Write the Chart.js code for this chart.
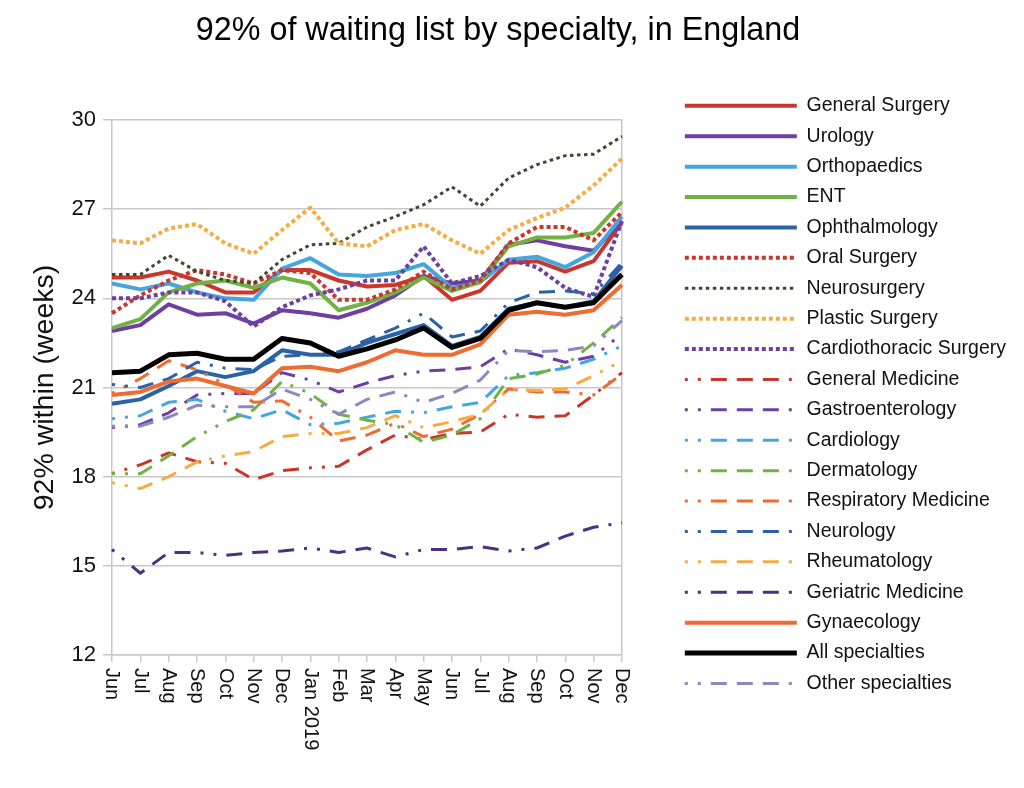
<!DOCTYPE html>
<html>
<head>
<meta charset="utf-8">
<script src="https://cdn.jsdelivr.net/npm/chart.js@4.4.1/dist/chart.umd.min.js"></script>
<style>
  html, body { margin: 0; padding: 0; background: #fff; }
  #wrap { width: 1024px; height: 788px; position: relative; }
</style>
</head>
<body>
<div id="wrap"><canvas id="c"></canvas></div>
<script>
// ---------- DATA ----------
const months = ['Jun','Jul','Aug','Sep','Oct','Nov','Dec','Jan 2019','Feb','Mar','Apr','May','Jun','Jul','Aug','Sep','Oct','Nov','Dec'];
const yTicks = [12, 15, 18, 21, 24, 27, 30];

const generalSurgery  = [24.7, 24.7, 24.9, 24.6, 24.2, 24.2, 24.95, 24.95, 24.6, 24.4, 24.45, 24.75, 23.95, 24.25, 25.2, 25.25, 24.9, 25.25, 26.55];
const urology         = [22.9, 23.1, 23.8, 23.45, 23.5, 23.15, 23.6, 23.5, 23.35, 23.65, 24.1, 24.75, 24.5, 24.6, 25.8, 25.95, 25.75, 25.6, 26.6];
const orthopaedics    = [24.5, 24.3, 24.5, 24.2, 24.0, 23.95, 25.0, 25.35, 24.8, 24.75, 24.85, 25.15, 24.35, 24.55, 25.3, 25.4, 25.05, 25.55, 26.75];
const ent             = [23.0, 23.3, 24.2, 24.5, 24.6, 24.35, 24.7, 24.5, 23.6, 23.85, 24.2, 24.7, 24.25, 24.55, 25.75, 26.05, 26.05, 26.2, 27.25];
const ophthalmology   = [20.45, 20.6, 21.05, 21.55, 21.35, 21.55, 22.25, 22.1, 22.1, 22.5, 22.8, 23.1, 22.4, 22.7, 23.65, 23.85, 23.7, 23.9, 25.1];
const oralSurgery     = [23.5, 24.1, 24.6, 24.95, 24.8, 24.5, 24.95, 24.85, 23.95, 23.95, 24.3, 24.9, 24.3, 24.6, 25.85, 26.4, 26.4, 25.95, 26.9];
const neurosurgery    = [24.8, 24.8, 25.45, 24.9, 24.6, 24.5, 25.3, 25.8, 25.85, 26.4, 26.75, 27.15, 27.75, 27.1, 28.05, 28.5, 28.8, 28.85, 29.45];
const plasticSurgery  = [25.95, 25.85, 26.35, 26.5, 25.85, 25.5, 26.3, 27.05, 25.85, 25.75, 26.3, 26.5, 25.95, 25.5, 26.3, 26.7, 27.05, 27.8, 28.7];
const cardiothoracic  = [24.0, 24.0, 24.2, 24.2, 23.9, 23.05, 23.7, 24.1, 24.3, 24.6, 24.6, 25.75, 24.5, 24.75, 25.3, 25.05, 24.35, 24.05, 26.6];
const generalMedicine = [18.1, 18.4, 18.8, 18.5, 18.45, 17.9, 18.2, 18.3, 18.35, 18.9, 19.4, 19.25, 19.45, 19.5, 20.1, 20.0, 20.05, 20.75, 21.5];
const gastroenterology= [19.65, 19.75, 20.15, 20.75, 20.8, 20.8, 21.5, 21.25, 20.85, 21.15, 21.4, 21.55, 21.6, 21.7, 22.3, 22.1, 21.85, 22.05, 22.8];
const cardiology      = [19.95, 20.05, 20.5, 20.6, 20.2, 19.95, 20.25, 19.75, 19.8, 20.0, 20.2, 20.15, 20.35, 20.5, 21.4, 21.5, 21.65, 21.95, 22.4];
const dermatology     = [18.1, 18.1, 18.7, 19.35, 19.85, 20.25, 21.2, 20.8, 20.1, 19.9, 19.75, 19.15, 19.4, 19.95, 21.3, 21.45, 21.75, 22.5, 23.35];
const respiratory     = [20.8, 21.3, 21.9, 21.6, 21.1, 20.5, 20.55, 20.0, 19.2, 19.4, 19.8, 19.35, 19.6, 20.1, 20.95, 20.85, 20.85, 20.75, 21.45];
const neurology       = [21.1, 21.0, 21.3, 21.85, 21.65, 21.6, 22.05, 22.1, 22.2, 22.6, 23.0, 23.5, 22.7, 22.9, 23.85, 24.2, 24.25, 24.15, 25.2];
const rheumatology    = [17.8, 17.6, 18.0, 18.5, 18.7, 18.85, 19.35, 19.45, 19.45, 19.65, 20.05, 19.65, 19.85, 20.1, 20.95, 20.9, 20.95, 21.4, 21.9];
const geriatric       = [15.55, 14.75, 15.45, 15.45, 15.35, 15.45, 15.5, 15.6, 15.45, 15.6, 15.3, 15.55, 15.55, 15.65, 15.5, 15.6, 16.0, 16.3, 16.45];
const gynaecology     = [20.75, 20.85, 21.2, 21.3, 21.05, 20.8, 21.65, 21.7, 21.55, 21.85, 22.25, 22.1, 22.1, 22.45, 23.45, 23.55, 23.45, 23.6, 24.45];
const allSpecialties  = [21.5, 21.55, 22.1, 22.15, 21.95, 21.95, 22.65, 22.5, 22.05, 22.3, 22.6, 23.0, 22.35, 22.65, 23.6, 23.85, 23.7, 23.85, 24.8];
const otherSpecialties= [19.7, 19.7, 20.0, 20.4, 20.35, 20.35, 20.95, 20.6, 20.1, 20.6, 20.85, 20.5, 20.8, 21.25, 22.25, 22.2, 22.25, 22.4, 23.25];

// ---------- STYLES ----------
const SOLID = [];
const DOT = [4, 3];
const DOT_FINE = [3.5, 3.5];
const DASHDOT = [3, 10, 3, 10, 16, 10, 16, 10, 16, 10];

const C = {
  red: '#C9372C', purple: '#6E3FA0', lblue: '#45A5DE', green: '#72B144',
  dblue: '#2B62A6', olive: '#3C4B30', lorange: '#F5AC45', orange: '#EE6B31',
  dpurple: '#4B2F82', black: '#000000', lavender: '#8C88C4'
};

const series = [
  ['General Surgery', generalSurgery, C.red, SOLID, 4],
  ['Urology', urology, C.purple, SOLID, 4],
  ['Orthopaedics', orthopaedics, C.lblue, SOLID, 4],
  ['ENT', ent, C.green, SOLID, 4],
  ['Ophthalmology', ophthalmology, C.dblue, SOLID, 4],
  ['Oral Surgery', oralSurgery, C.red, DOT, 4],
  ['Neurosurgery', neurosurgery, C.olive, DOT_FINE, 3],
  ['Plastic Surgery', plasticSurgery, C.lorange, DOT, 4],
  ['Cardiothoracic Surgery', cardiothoracic, C.purple, DOT, 4],
  ['General Medicine', generalMedicine, C.red, DASHDOT, 3],
  ['Gastroenterology', gastroenterology, C.purple, DASHDOT, 3],
  ['Cardiology', cardiology, C.lblue, DASHDOT, 3],
  ['Dermatology', dermatology, C.green, DASHDOT, 3],
  ['Respiratory Medicine', respiratory, C.orange, DASHDOT, 3],
  ['Neurology', neurology, C.dblue, DASHDOT, 3],
  ['Rheumatology', rheumatology, C.lorange, DASHDOT, 3],
  ['Geriatric Medicine', geriatric, C.dpurple, DASHDOT, 3],
  ['Gynaecology', gynaecology, C.orange, SOLID, 4],
  ['All specialties', allSpecialties, C.black, SOLID, 5],
  ['Other specialties', otherSpecialties, C.lavender, DASHDOT, 3]
];

const N = series.length;
const datasets = series.map(([label, data, color, dash, w], i) => ({
  label, data,
  borderColor: color, backgroundColor: color,
  borderDash: dash, borderWidth: w,
  borderCapStyle: 'butt', borderJoinStyle: 'round',
  pointRadius: 0, pointHoverRadius: 0,
  tension: 0, fill: false,
  order: N - i,
  xAxisID: 'x', yAxisID: 'y'
}));

// legend entries built from the same series table
const legendItems = series.map(([label, data, color, dash, w], i) => ({
  text: label, strokeStyle: color, fillStyle: color,
  lineWidth: w, lineDash: dash, lineCap: 'butt', lineJoin: 'miter',
  pointStyle: 'line', hidden: false, datasetIndex: i
}));

const GRID = '#c8c8c8';
const FONT = '"Liberation Sans", Arial, Helvetica, sans-serif';
Chart.defaults.font.family = FONT;
Chart.defaults.color = '#111';

// Draw x tick labels rotated clockwise (reading top to bottom), positioned by the scale.
const xLabelPlugin = {
  id: 'xLabelsCW',
  afterDraw(chart) {
    const sc = chart.scales.x;
    const ctx = chart.ctx;
    ctx.save();
    ctx.font = '20px ' + FONT;
    ctx.fillStyle = '#111';
    ctx.textAlign = 'left';
    ctx.textBaseline = 'middle';
    sc.ticks.forEach((t, i) => {
      const x = sc.getPixelForTick(i);
      ctx.save();
      ctx.translate(x, sc.top + 13);
      ctx.rotate(Math.PI / 2);
      ctx.fillText(sc.getLabelForValue(t.value), 0, 0);
      ctx.restore();
    });
    ctx.restore();
  }
};

new Chart(document.getElementById('c'), {
  type: 'line',
  data: { labels: months, datasets },
  plugins: [xLabelPlugin],
  options: {
    responsive: true,
    maintainAspectRatio: false,
    devicePixelRatio: 1,
    animation: false,
    events: [],
    layout: { padding: { left: -20, right: 8, top: 0, bottom: 0 } },
    plugins: {
      title: {
        display: true,
        text: '92% of waiting list by specialty, in England',
        font: { size: 32.3, weight: 'normal' },
        color: '#000',
        padding: { top: 12, bottom: 32 }
      },
      legend: {
        position: 'right',
        align: 'start',
        maxWidth: 400,
        title: { display: true, text: '', font: { size: 10 }, padding: { top: 73.2, bottom: 0 } },
        labels: {
          usePointStyle: true,
          pointStyle: 'line',
          pointStyleWidth: 112,
          font: { size: 19.5 },
          color: '#111',
          padding: 10.9,
          generateLabels: function () { return legendItems.map(o => Object.assign({}, o)); }
        }
      },
      tooltip: { enabled: false }
    },
    scales: {
      x: {
        type: 'category',
        position: 'bottom',
        offset: false,
        ticks: { display: false },
        grid: {
          offset: false,
          drawOnChartArea: true,
          color: (ctx) => ctx.index === months.length - 1 ? GRID : 'rgba(0,0,0,0)',
          tickColor: GRID,
          tickLength: 7,
          lineWidth: 1.5
        },
        border: { color: GRID, width: 1.5 },
        afterFit(s) { s.height = 133; }
      },
      y: {
        type: 'linear',
        position: 'left',
        min: yTicks[0],
        max: yTicks[yTicks.length - 1],
        afterBuildTicks(s) { s.ticks = yTicks.map(v => ({ value: v })); },
        ticks: { font: { size: 22 }, color: '#111', padding: 7 },
        grid: { color: GRID, lineWidth: 1.5, tickLength: 9, tickColor: GRID },
        border: { color: GRID, width: 1.5 },
        title: {
          display: true,
          text: '92% within (weeks)',
          font: { size: 28.5 },
          color: '#111',
          padding: { top: 48, bottom: 0 }
        },
        afterFit(s) { s.width = 132; }
      },
      xTop: {
        type: 'category',
        position: 'top',
        display: true,
        grid: { display: false },
        ticks: { display: false },
        border: { display: false },
        afterFit(s) { s.height = 37.24; }
      },
      yRight: {
        type: 'linear',
        position: 'right',
        display: true,
        grid: { display: false },
        ticks: { display: false },
        border: { display: false },
        afterFit(s) { s.width = 52; }
      }
    }
  }
});
</script>
</body>
</html>
